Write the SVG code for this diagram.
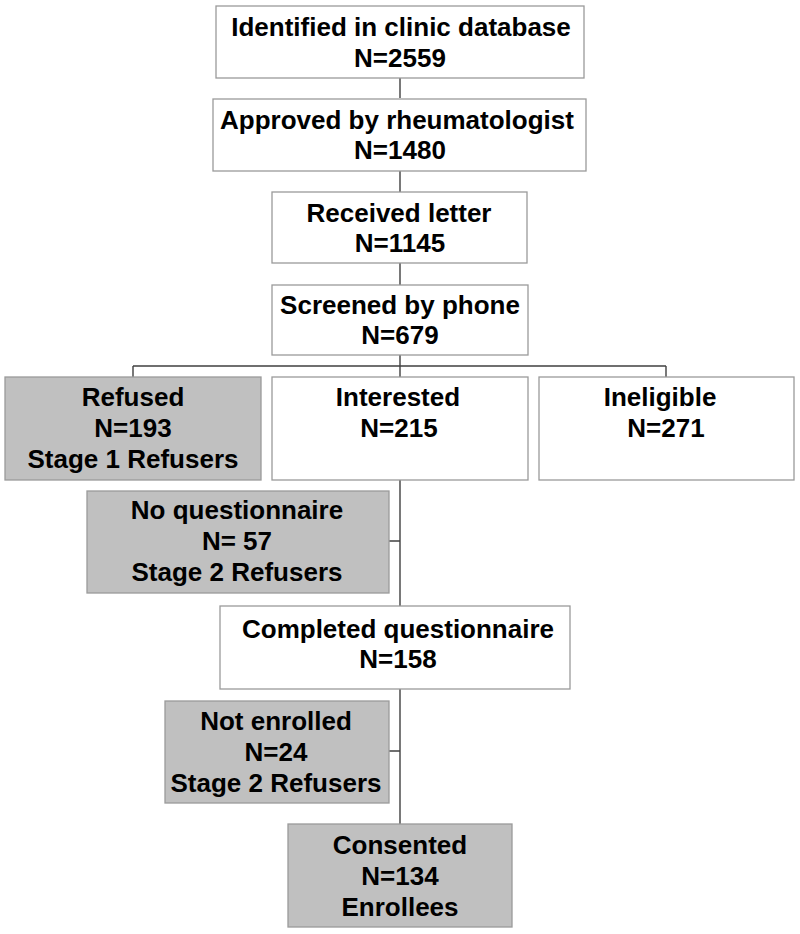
<svg xmlns="http://www.w3.org/2000/svg" width="800" height="934" viewBox="0 0 800 934">
<style>
.w{fill:#ffffff;stroke:#9a9a9a;stroke-width:1.3}
.g{fill:#c0c0c0;stroke:#9a9a9a;stroke-width:1.3}
text{font-family:"Liberation Sans",Arial,sans-serif;font-weight:bold;font-size:26px;fill:#000;text-anchor:middle}
.c{stroke:#404040;stroke-width:1.4;fill:none}
</style>
<rect width="800" height="934" fill="#fff"/>
<g id="connectors">
<path class="c" d="M400 78V98M400 171V192M400 263V285M400 355V366M133 366H666M133 366V377M400 366V377M666 366V377M400 480V606M389 541H400M400 689V824M389 751H400"/>
</g>
<g id="identified"><rect class="w" x="216" y="6" width="368" height="72"/><text x="401" y="36">Identified in clinic database</text><text x="400" y="67">N=2559</text></g>
<g id="approved"><rect class="w" x="213" y="99" width="373" height="72"/><text x="397" y="129">Approved by rheumatologist</text><text x="400" y="159">N=1480</text></g>
<g id="received"><rect class="w" x="272" y="192" width="255" height="71"/><text x="399" y="222">Received letter</text><text x="400" y="252">N=1145</text></g>
<g id="screened"><rect class="w" x="272" y="285" width="256" height="70"/><text x="400" y="314">Screened by phone</text><text x="400" y="344">N=679</text></g>
<g id="refused"><rect class="g" x="5" y="377" width="256" height="103"/><text x="133" y="406">Refused</text><text x="133" y="437">N=193</text><text x="133" y="468">Stage 1 Refusers</text></g>
<g id="interested"><rect class="w" x="272" y="377" width="256" height="103"/><text x="398" y="406">Interested</text><text x="399" y="437">N=215</text></g>
<g id="ineligible"><rect class="w" x="539" y="377" width="255" height="103"/><text x="660" y="406">Ineligible</text><text x="666" y="437">N=271</text></g>
<g id="noquest"><rect class="g" x="87" y="491" width="302" height="102"/><text x="237" y="519">No questionnaire</text><text x="237" y="550">N= 57</text><text x="237" y="581">Stage 2 Refusers</text></g>
<g id="completed"><rect class="w" x="220" y="606" width="350" height="83"/><text x="398" y="638">Completed questionnaire</text><text x="398" y="668">N=158</text></g>
<g id="notenrolled"><rect class="g" x="165" y="701" width="224" height="102"/><text x="276" y="730">Not enrolled</text><text x="276" y="761">N=24</text><text x="276" y="792">Stage 2 Refusers</text></g>
<g id="consented"><rect class="g" x="288" y="824" width="224" height="103"/><text x="400" y="854">Consented</text><text x="400" y="885">N=134</text><text x="400" y="916">Enrollees</text></g>
</svg>
